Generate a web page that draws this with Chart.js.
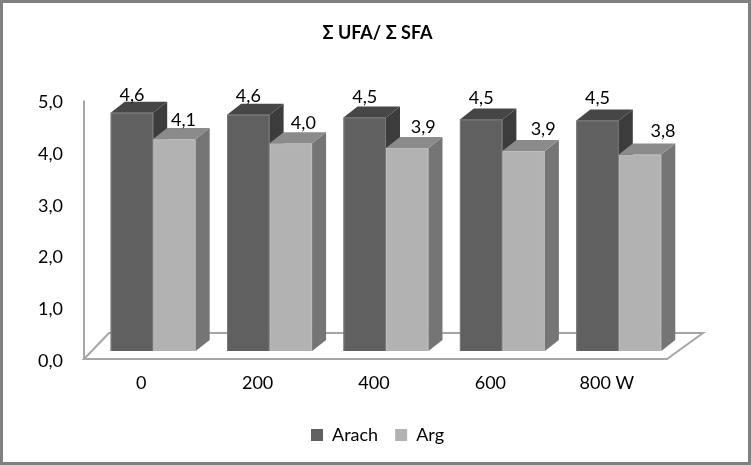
<!DOCTYPE html>
<html>
<head>
<meta charset="utf-8">
<script src="https://cdn.jsdelivr.net/npm/chart.js@4.4.0/dist/chart.umd.min.js"></script>
<style>
html,body{margin:0;padding:0;background:#fff;}
#wrap{width:751px;height:465px;position:relative;}
canvas{display:block;}
</style>
</head>
<body>
<div id="wrap"><canvas id="c" width="751" height="465"></canvas></div>
<script>
// ---- data ----
const categories = ['0', '200', '400', '600', '800 W'];
const seriesNames = ['Arach', 'Arg'];
const arachValues = [4.61, 4.57, 4.52, 4.48, 4.46];
const argValues = [4.10, 4.02, 3.93, 3.87, 3.80];
const yTicks = [0, 1, 2, 3, 4, 5];
const chartTitle = 'Σ UFA/ Σ SFA';

// ---- styles ----
const FRONT = ['#606060', '#b2b2b2'];
const TOP = ['#464646', '#8b8b8b'];
const SIDE = ['#3c3c3c', '#757575'];
const DEPTH_X = 14, DEPTH_Y = -11;
const FONT = 'Lato';

function fmt(v) { return v.toFixed(1).replace('.', ','); }

const threeD = {
  id: 'threeD',
  beforeDraw(chart) {
    const ctx = chart.ctx;
    ctx.save();
    ctx.fillStyle = '#ffffff';
    ctx.fillRect(0, 0, chart.width, chart.height);
    ctx.restore();
  },
  beforeDatasetsDraw(chart) {
    const ctx = chart.ctx, a = chart.chartArea, ys = chart.scales.y;
    const y0 = ys.getPixelForValue(yTicks[0]);
    const yTop = ys.getPixelForValue(yTicks[yTicks.length - 1]);
    ctx.save();
    ctx.strokeStyle = '#a6a6a6';
    ctx.lineWidth = 2;
    ctx.fillStyle = '#ffffff';
    ctx.beginPath();
    ctx.moveTo(a.left - 11, y0 + 8);
    ctx.lineTo(a.right - 10, y0 + 8);
    ctx.lineTo(a.right + 26, y0 - 18);
    ctx.lineTo(a.left + 14, y0 - 18);
    ctx.closePath();
    ctx.fill();
    ctx.stroke();
    ctx.beginPath();
    ctx.moveTo(a.left - 11, yTop + 8);
    ctx.lineTo(a.left - 11, y0 + 8);
    ctx.stroke();
    ctx.restore();
  },
  afterDatasetsDraw(chart) {
    const ctx = chart.ctx;
    const metas = chart.data.datasets.map((d, di) => chart.getDatasetMeta(di));
    ctx.save();
    for (let i = 0; i < categories.length; i++) {
      metas.forEach((meta, di) => {
        const bar = meta.data[i];
        const p = bar.getProps(['x', 'y', 'width', 'base'], true);
        const l = p.x - p.width / 2, r = p.x + p.width / 2;
        // front face
        ctx.fillStyle = FRONT[di];
        ctx.fillRect(l, p.y, r - l, p.base - p.y);
        // side face
        ctx.fillStyle = SIDE[di];
        ctx.beginPath();
        ctx.moveTo(r, p.y);
        ctx.lineTo(r + DEPTH_X, p.y + DEPTH_Y);
        ctx.lineTo(r + DEPTH_X, p.base + DEPTH_Y);
        ctx.lineTo(r, p.base);
        ctx.closePath();
        ctx.fill();
        // top face
        ctx.fillStyle = TOP[di];
        ctx.beginPath();
        ctx.moveTo(l, p.y);
        ctx.lineTo(r, p.y);
        ctx.lineTo(r + DEPTH_X, p.y + DEPTH_Y);
        ctx.lineTo(l + DEPTH_X, p.y + DEPTH_Y);
        ctx.closePath();
        ctx.fill();
        // subtle edges
        ctx.strokeStyle = 'rgba(255,255,255,0.16)';
        ctx.lineWidth = 1;
        ctx.beginPath();
        ctx.moveTo(l + 0.5, p.base);
        ctx.lineTo(l + 0.5, p.y + 0.5);
        ctx.lineTo(r - 0.5, p.y + 0.5);
        ctx.lineTo(r - 0.5, p.base);
        ctx.stroke();
      });
    }
    // value labels
    ctx.font = '18px ' + FONT;
    ctx.fillStyle = '#000';
    ctx.textAlign = 'center';
    ctx.textBaseline = 'middle';
    chart.data.datasets.forEach((ds, di) => {
      metas[di].data.forEach((bar, i) => {
        const dx = di === 1 ? 9 + 3.5 * i : 0;
        const dy = di === 1 ? -19 - i : -18 - i;
        ctx.fillText(fmt(ds.data[i]), bar.x + dx, bar.y + dy);
      });
    });
    ctx.restore();
  },
  afterDraw(chart) {
    const ctx = chart.ctx;
    ctx.save();
    ctx.strokeStyle = '#808080';
    ctx.lineWidth = 3;
    ctx.strokeRect(1.5, 1.5, chart.width - 3, chart.height - 3);
    ctx.restore();
  }
};

Chart.defaults.font.family = FONT;
Chart.defaults.color = '#000';

new Chart(document.getElementById('c'), {
  type: 'bar',
  data: {
    labels: categories,
    datasets: [
      { label: seriesNames[0], data: arachValues, backgroundColor: FRONT[0],
        categoryPercentage: 0.73, barPercentage: 1.0, borderWidth: 0 },
      { label: seriesNames[1], data: argValues, backgroundColor: FRONT[1],
        categoryPercentage: 0.73, barPercentage: 1.0, borderWidth: 0 }
    ]
  },
  options: {
    responsive: false,
    animation: false,
    layout: { padding: { left: 4, right: 0, top: 5, bottom: 11 } },
    plugins: {
      title: {
        display: true, text: chartTitle, color: '#000',
        font: { family: FONT, size: 18, weight: 'bold' },
        padding: { top: 17, bottom: 49 }
      },
      legend: {
        display: true, position: 'bottom',
        labels: { boxWidth: 12, boxHeight: 12, padding: 17, color: '#000',
                  font: { family: FONT, size: 18 } }
      },
      tooltip: { enabled: false }
    },
    scales: {
      x: {
        grid: { display: false, drawTicks: false },
        border: { display: false },
        ticks: { padding: 21, labelOffset: -12, maxRotation: 0, color: '#000',
                 font: { family: FONT, size: 18 } },
        afterFit(scale) { scale.height = 58; }
      },
      y: {
        min: yTicks[0], max: yTicks[yTicks.length - 1],
        grid: { display: false, drawTicks: false },
        border: { display: false },
        afterBuildTicks(scale) { scale.ticks = yTicks.map(v => ({ value: v })); },
        ticks: { padding: 32, labelOffset: 10, color: '#000',
                 font: { family: FONT, size: 18 }, callback: v => fmt(v) },
        afterFit(scale) { scale.width = 91; }
      },
      yRight: {
        position: 'right', display: true,
        grid: { display: false, drawTicks: false },
        border: { display: false },
        ticks: { display: false },
        afterFit(scale) { scale.width = 74; }
      }
    }
  },
  plugins: [threeD]
});
</script>
</body>
</html>
